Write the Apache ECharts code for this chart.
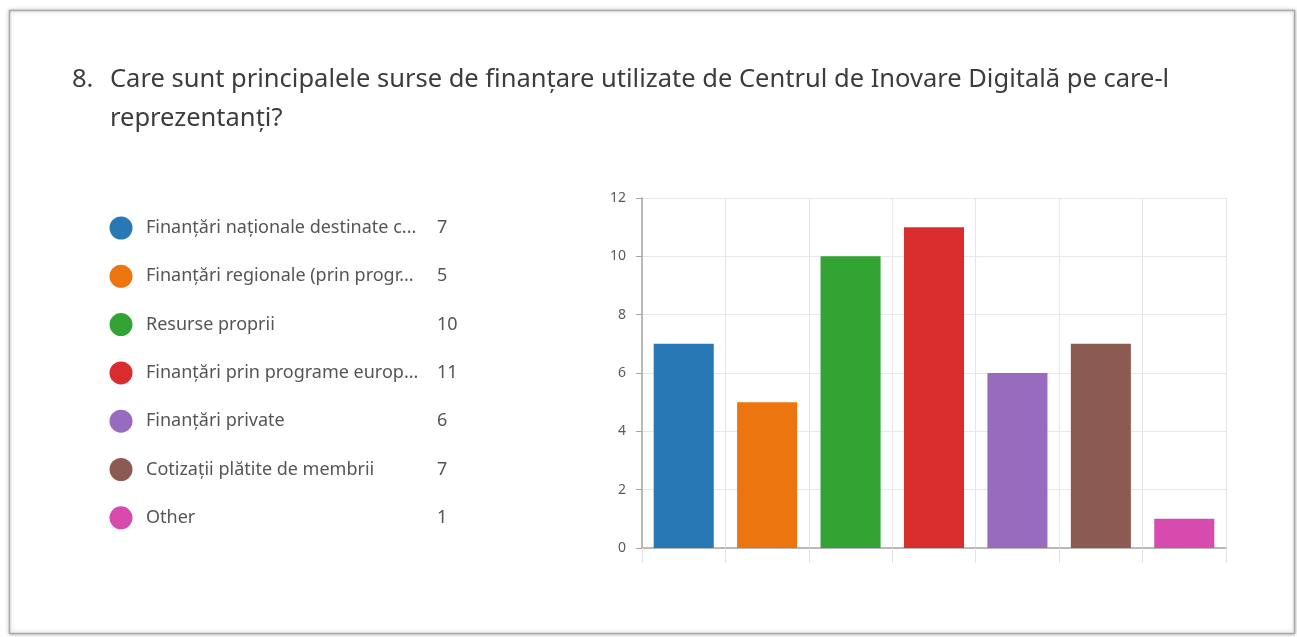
<!DOCTYPE html>
<html><head><meta charset="utf-8">
<script src="https://cdn.jsdelivr.net/npm/echarts@6/dist/echarts.min.js"></script>
<style>html,body{margin:0;padding:0;background:#fff;}#c{width:1297px;height:637px;}</style>
</head><body><div id="c"></div>
<script>
const titleNumber = '8.';
const titleLines = ['Care sunt principalele surse de finanțare utilizate de Centrul de Inovare Digitală pe care-l', 'reprezentanți?'];
const categories = ['Finanțări naționale destinate c...', 'Finanțări regionale (prin progr...', 'Resurse proprii', 'Finanțări prin programe europ...', 'Finanțări private', 'Cotizații plătite de membrii', 'Other'];
const values = [7, 5, 10, 11, 6, 7, 1];
const colors = ['#2878b6', '#ec7510', '#33a433', '#d92c2c', '#986bbf', '#8b5b51', '#d64bad'];
const yTicks = {min: 0, max: 12, interval: 2};

const chart = echarts.init(document.getElementById('c'), null, {renderer: 'canvas'});
const font = '"Segoe UI", "Noto Sans", "Open Sans", sans-serif';
const graphics = [
  {type: 'rect', shape: {x: 9.5, y: 10.5, width: 1285, height: 623}, style: {fill: '#fff', stroke: '#a8a8a8', lineWidth: 1.5, shadowBlur: 4, shadowColor: 'rgba(0,0,0,0.25)'}, z: -10},
  {type: 'text', x: 72, y: 80, style: {text: titleNumber, font: '25.5px ' + font, fill: '#3c3c3c', verticalAlign: 'middle'}},
  {type: 'text', x: 110, y: 80, style: {text: titleLines[0], font: '25.5px ' + font, fill: '#3c3c3c', verticalAlign: 'middle'}},
  {type: 'text', x: 110, y: 119, style: {text: titleLines[1], font: '25.5px ' + font, fill: '#3c3c3c', verticalAlign: 'middle'}}
];
categories.forEach((name, i) => {
  const cy = 228 + i * 48.3;
  graphics.push({type: 'circle', shape: {cx: 121, cy: cy, r: 11.5}, style: {fill: colors[i]}});
  graphics.push({type: 'text', x: 146, y: cy, style: {text: name, font: '18px ' + font, fill: '#555', verticalAlign: 'middle'}});
  graphics.push({type: 'text', x: 437, y: cy, style: {text: String(values[i]), font: '18px ' + font, fill: '#555', verticalAlign: 'middle'}});
});

chart.setOption({
  animation: false,
  textStyle: {fontFamily: font},
  graphic: graphics,
  grid: {left: 642, top: 198, right: 71, bottom: 89, containLabel: false},
  xAxis: {
    type: 'category', data: categories, boundaryGap: true,
    axisLine: {show: true, lineStyle: {color: '#a6a6a6', width: 1.5}},
    axisTick: {show: true, interval: 0, length: 15, lineStyle: {color: '#e2e2e2'}},
    axisLabel: {show: false, interval: 0},
    splitLine: {show: true, interval: 0, lineStyle: {color: '#e6e6e6'}}
  },
  yAxis: {
    type: 'value', min: yTicks.min, max: yTicks.max, interval: yTicks.interval,
    axisLine: {show: true, lineStyle: {color: '#a6a6a6', width: 1.5}},
    axisTick: {show: true, length: 6, lineStyle: {color: '#a6a6a6'}},
    axisLabel: {color: '#5a5a5a', fontSize: 14, margin: 16},
    splitLine: {show: true, lineStyle: {color: '#e8e8e8'}}
  },
  series: [{
    type: 'bar', data: values.map((v, i) => ({value: v, itemStyle: {color: colors[i]}})),
    barWidth: '72%'
  }]
});
</script></body></html>
